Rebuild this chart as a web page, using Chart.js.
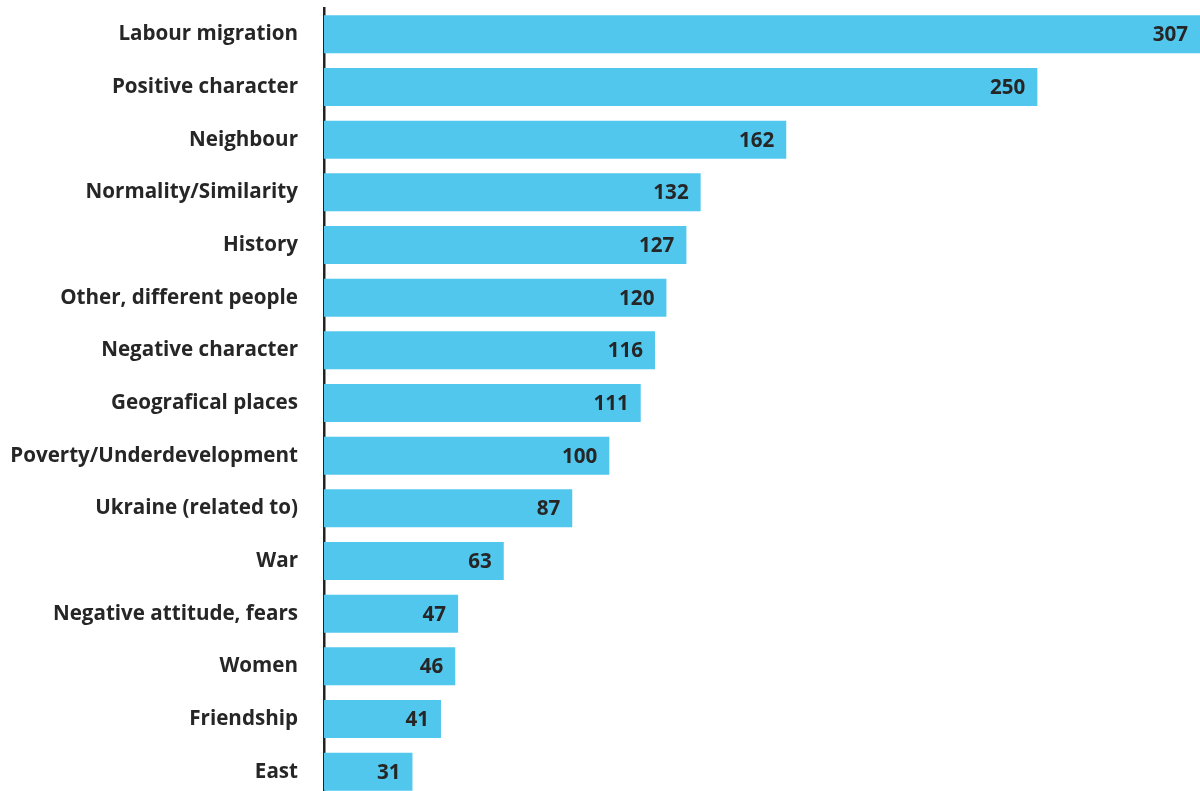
<!DOCTYPE html>
<html>
<head>
<meta charset="utf-8">
<script src="https://cdn.jsdelivr.net/npm/chart.js@4"></script>
<style>
  html, body { margin: 0; padding: 0; background: #fff; overflow: hidden; }
  #wrap { width: 1200px; height: 791px; overflow: hidden; }
</style>
</head>
<body>
<div id="wrap"><canvas id="myChart" width="1200" height="798"></canvas></div>
<script>
var categories = ['Labour migration', 'Positive character', 'Neighbour', 'Normality/Similarity', 'History',
  'Other, different people', 'Negative character', 'Geografical places', 'Poverty/Underdevelopment',
  'Ukraine (related to)', 'War', 'Negative attitude, fears', 'Women', 'Friendship', 'East'];
var counts = [307, 250, 162, 132, 127, 120, 116, 111, 100, 87, 63, 47, 46, 41, 31];

// value written inside the end of each bar
var barValues = {
  id: 'barValues',
  afterDatasetsDraw: function (chart) {
    var ctx = chart.ctx;
    var meta = chart.getDatasetMeta(0);
    ctx.save();
    ctx.font = 'bold 20.6px "Open Sans"';
    ctx.fillStyle = '#262626';
    ctx.textAlign = 'right';
    ctx.textBaseline = 'middle';
    meta.data.forEach(function (bar, i) {
      ctx.fillText(String(counts[i]), bar.x - 12, bar.y + 1);
    });
    ctx.restore();
  }
};

var chart = new Chart(document.getElementById('myChart').getContext('2d'), {
  type: 'bar',
  data: {
    labels: categories,
    datasets: [{
      data: counts,
      backgroundColor: '#52c7ee',
      borderWidth: 0,
      barPercentage: 0.72,
      categoryPercentage: 1
    }]
  },
  options: {
    indexAxis: 'y',
    responsive: false,
    animation: false,
    devicePixelRatio: 1,
    layout: { padding: { top: 8, right: 0, bottom: 0, left: 0 } },
    plugins: {
      legend: { display: false },
      tooltip: { enabled: false }
    },
    scales: {
      x: {
        display: false,
        min: 0,
        max: 307
      },
      y: {
        grid: { display: false, drawTicks: false },
        border: { display: true, color: '#222', width: 2.5 },
        ticks: {
          padding: 26,
          color: '#262626',
          font: { family: '"Open Sans"', size: 20.6, weight: 'bold' }
        },
        afterFit: function (scale) {
          scale.width = 324;
          scale.paddingTop = 0;
          scale.paddingBottom = 0;
        }
      }
    }
  },
  plugins: [barValues]
});
</script>
</body>
</html>
